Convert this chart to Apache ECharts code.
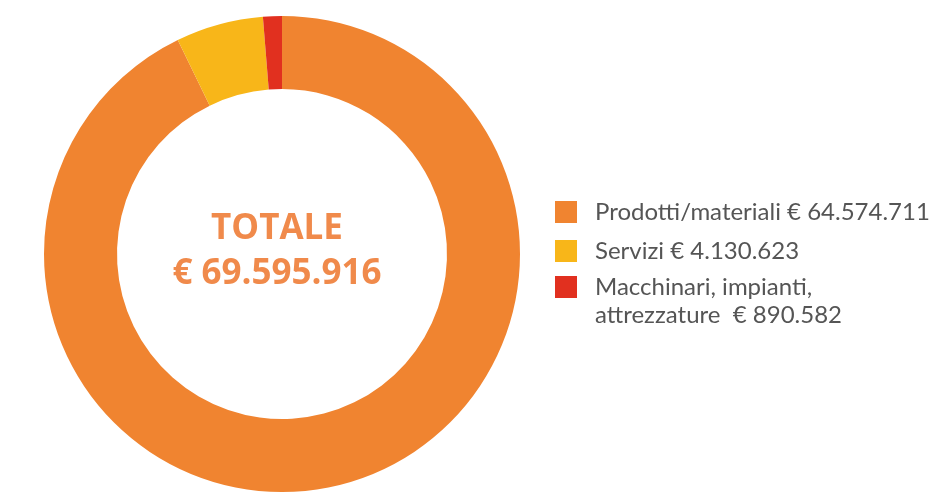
<!DOCTYPE html>
<html>
<head>
<meta charset="utf-8">
<script src="https://cdn.jsdelivr.net/npm/echarts@6/dist/echarts.min.js"></script>
<style>
  html, body { margin: 0; padding: 0; background: #fff; }
  #chart { width: 931px; height: 492px; }
</style>
</head>
<body>
<div id="chart"></div>
<script>
// voci di spesa
const categories = ['Prodotti/materiali', 'Servizi', 'Macchinari, impianti,\nattrezzature '];
const values = [64574711, 4130623, 890582];
const colors = ['#F08430', '#F8B619', '#E1301F'];

const fmt = (v) => String(v).replace(/\B(?=(\d{3})+(?!\d))/g, '.');
const total = values.reduce((a, b) => a + b, 0);

const chart = echarts.init(document.getElementById('chart'));

const richText = {
  t: {
    fontFamily: 'Lato',
    fontSize: 24,
    lineHeight: 28,
    color: '#555555',
    padding: [0, 0, 0, 13]
  }
};

// ogni riga diventa un token rich; righe vuote davanti spostano il quadrato sulla prima riga
const legendLabel = (name, lead) => {
  const lines = (name + ' € ' + fmt(values[categories.indexOf(name)])).split('\n');
  const pad = [];
  for (let i = 0; i < lead; i++) pad.push('{t| }');
  return pad.concat(lines.map((l) => '{t|' + l + '}')).join('\n');
};

const legendBase = {
  orient: 'vertical',
  left: 555,
  padding: 0,
  itemWidth: 22,
  itemHeight: 22,
  itemGap: 15,
  icon: 'rect',
  selectedMode: false,
  textStyle: { rich: richText }
};

chart.setOption({
  backgroundColor: '#ffffff',
  animation: false,
  title: {
    text: 'TOTALE\n€ ' + fmt(total),
    left: 277,
    top: 207,
    textAlign: 'center',
    padding: 0,
    textStyle: {
      fontFamily: 'Open Sans',
      fontWeight: 'bold',
      fontSize: 35,
      lineHeight: 45,
      color: '#F08A4B'
    }
  },
  legend: [
    Object.assign({}, legendBase, {
      data: categories.slice(0, 2),
      top: 200,
      formatter: (name) => legendLabel(name, 0)
    }),
    Object.assign({}, legendBase, {
      data: categories.slice(2),
      top: 247,
      formatter: (name) => legendLabel(name, 1)
    })
  ],
  series: [
    {
      type: 'pie',
      center: [282, 254],
      radius: [165, 238],
      startAngle: 90,
      clockwise: true,
      label: { show: false },
      labelLine: { show: false },
      emphasis: { disabled: true },
      itemStyle: { borderWidth: 0 },
      data: categories.map((name, i) => ({
        name: name,
        value: values[i],
        itemStyle: { color: colors[i] }
      }))
    }
  ]
});

window.addEventListener('resize', () => chart.resize());
</script>
</body>
</html>
